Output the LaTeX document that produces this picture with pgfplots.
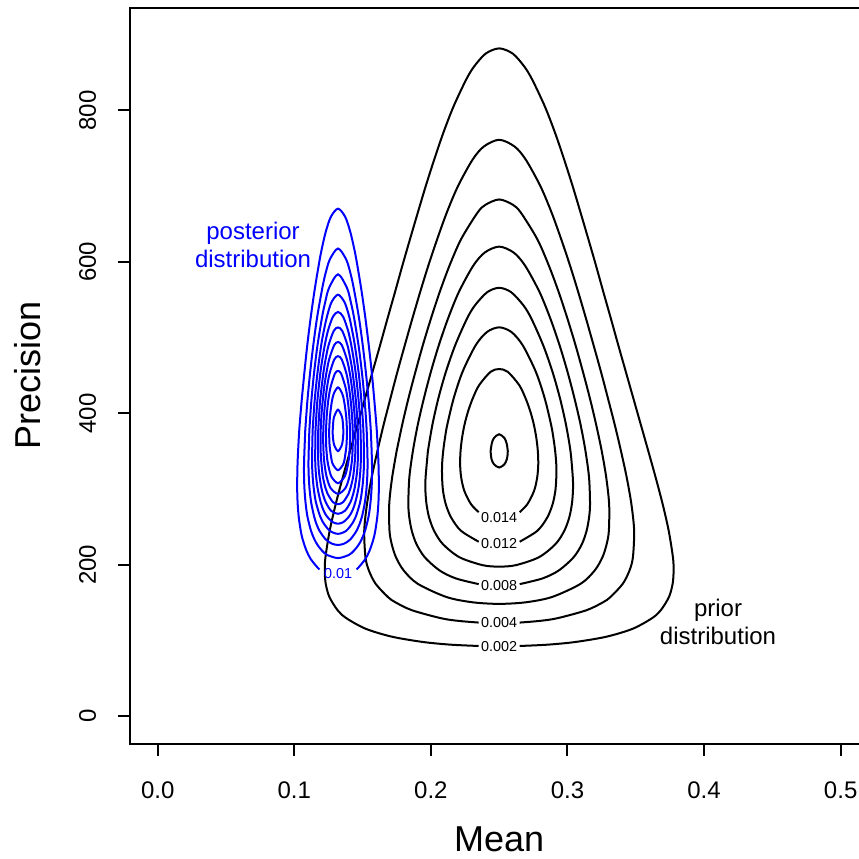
\documentclass[border=0pt]{standalone}
\usepackage{fontspec}
\setmainfont{Liberation Sans}
\usepackage{pgfplots}
\pgfplotsset{compat=1.18}
\pgfplotsset{
  ctb/.style={black, line width=1pt, smooth, mark=none},
  ctp/.style={blue, line width=1pt, smooth, mark=none},
}
\begin{document}
\begin{tikzpicture}
\begin{axis}[
  at={(0,0)}, anchor=south west,
  width=368.8pt, height=368pt, scale only axis,
  xmin=-0.02, xmax=0.52, ymin=-36, ymax=936,
  xtick={0,0.1,0.2,0.3,0.4,0.5},
  xticklabels={0.0,0.1,0.2,0.3,0.4,0.5},
  ytick={0,200,400,600,800},
  yticklabels={0,200,400,600,800},
  tick align=outside,
  major tick length=6pt,
  xtick pos=left, ytick pos=left,
  axis line style={line width=1pt},
  every tick/.style={black, line width=1pt},
  tick label style={font=\fontsize{12}{14}\selectfont},
  xticklabel style={anchor=base, inner sep=0pt},
  xticklabel shift=21.5pt,
  yticklabel style={rotate=90, anchor=south, inner sep=0pt},
  yticklabel shift=10.9pt,
  xlabel={Mean}, ylabel={Precision},
  label style={font=\fontsize{18}{20}\selectfont},
  xlabel style={at={(axis description cs:0.5,0)}, anchor=base, yshift=-53.75pt},
  ylabel style={at={([xshift=-44.7pt]axis description cs:0,0.5)}, anchor=base},
]
% ---- prior contours (black) ----
% 0.002
\addplot[ctb] coordinates {(0.235,92.8) (0.2147,94.5) (0.1945,98) (0.1716,105) (0.1523,115.5) (0.1381,129.5) (0.1317,140) (0.1257,157.5) (0.1230,175) (0.1223,192.5) (0.1228,210) (0.1259,245) (0.1303,280) (0.1354,315) (0.1408,350) (0.1463,385) (0.1518,420) (0.1573,455) (0.1628,490) (0.1682,525) (0.1737,560) (0.1791,595) (0.1847,630) (0.1904,665) (0.1962,700) (0.2024,735) (0.2090,770) (0.2165,805) (0.2256,840) (0.2314,857.5) (0.2400,875) (0.25,882) (0.2600,875) (0.2686,857.5) (0.2744,840) (0.2835,805) (0.2910,770) (0.2976,735) (0.3038,700) (0.3096,665) (0.3153,630) (0.3209,595) (0.3263,560) (0.3318,525) (0.3372,490) (0.3427,455) (0.3482,420) (0.3537,385) (0.3592,350) (0.3646,315) (0.3697,280) (0.3741,245) (0.3772,210) (0.3777,192.5) (0.3770,175) (0.3743,157.5) (0.3683,140) (0.3619,129.5) (0.3477,115.5) (0.3284,105) (0.3055,98) (0.2853,94.5) (0.265,92.8)};
% 0.004
\addplot[ctb] coordinates {(0.235,123.7) (0.2199,126) (0.2073,129.5) (0.1861,140) (0.1740,150.5) (0.1685,157.5) (0.1595,175) (0.1546,192.5) (0.1521,210) (0.1512,245) (0.1532,280) (0.1566,315) (0.1608,350) (0.1654,385) (0.1704,420) (0.1755,455) (0.1809,490) (0.1864,525) (0.1921,560) (0.1981,595) (0.2046,630) (0.2116,665) (0.2198,700) (0.2305,735) (0.2388,752.5) (0.25,761.3) (0.2612,752.5) (0.2695,735) (0.2802,700) (0.2884,665) (0.2954,630) (0.3019,595) (0.3079,560) (0.3136,525) (0.3191,490) (0.3245,455) (0.3296,420) (0.3346,385) (0.3392,350) (0.3434,315) (0.3468,280) (0.3488,245) (0.3479,210) (0.3454,192.5) (0.3405,175) (0.3315,157.5) (0.3260,150.5) (0.3139,140) (0.2927,129.5) (0.2801,126) (0.265,123.7)};
% 0.006
\addplot[ctb] coordinates {(0.1749,350) (0.1790,385) (0.1836,420) (0.1887,455) (0.1941,490) (0.2000,525) (0.2064,560) (0.2136,595) (0.2221,630) (0.2341,665) (0.2400,675.5) (0.25,682.5) (0.2600,675.5) (0.2659,665) (0.2779,630) (0.2864,595) (0.2936,560) (0.3000,525) (0.3059,490) (0.3113,455) (0.3164,420) (0.3210,385) (0.3251,350) (0.3284,315) (0.3305,280) (0.3303,245) (0.3287,227.5) (0.3256,210) (0.3199,192.5) (0.3097,175) (0.2887,157.5) (0.2695,150.5) (0.25,148.4) (0.2305,150.5) (0.2113,157.5) (0.1903,175) (0.1801,192.5) (0.1744,210) (0.1713,227.5) (0.1697,245) (0.1695,280) (0.1716,315) (0.1749,350)};
% 0.008
\addplot[ctb] coordinates {(0.235,174.5) (0.2183,182) (0.2064,192.5) (0.1955,210) (0.1894,227.5) (0.1860,245) (0.1842,262.5) (0.1835,280) (0.1842,315) (0.1868,350) (0.1904,385) (0.1949,420) (0.2000,455) (0.2058,490) (0.2125,525) (0.2204,560) (0.2310,595) (0.2395,612.5) (0.25,620.2) (0.2605,612.5) (0.2690,595) (0.2796,560) (0.2875,525) (0.2942,490) (0.3000,455) (0.3051,420) (0.3096,385) (0.3132,350) (0.3158,315) (0.3165,280) (0.3158,262.5) (0.3140,245) (0.3106,227.5) (0.3045,210) (0.2936,192.5) (0.2817,182) (0.265,174.5)};
% 0.010
\addplot[ctb] coordinates {(0.1978,350) (0.2011,385) (0.2055,420) (0.2110,455) (0.2178,490) (0.2264,525) (0.2322,542.5) (0.2412,560) (0.25,565.8) (0.2588,560) (0.2678,542.5) (0.2736,525) (0.2822,490) (0.2890,455) (0.2945,420) (0.2989,385) (0.3022,350) (0.3039,315) (0.3040,297.5) (0.3032,280) (0.3013,262.5) (0.2977,245) (0.2913,227.5) (0.2791,210) (0.2621,199.5) (0.25,197.6) (0.2379,199.5) (0.2209,210) (0.2087,227.5) (0.2023,245) (0.1987,262.5) (0.1968,280) (0.1960,297.5) (0.1961,315) (0.1978,350)};
% 0.012
\addplot[ctb] coordinates {(0.235,230.5) (0.2220,245) (0.2148,262.5) (0.2109,280) (0.2089,297.5) (0.2082,315) (0.2082,332.5) (0.2090,350) (0.2103,367.5) (0.2120,385) (0.2167,420) (0.2232,455) (0.2328,490) (0.2411,507.5) (0.25,513.6) (0.2589,507.5) (0.2672,490) (0.2768,455) (0.2833,420) (0.2880,385) (0.2897,367.5) (0.2910,350) (0.2918,332.5) (0.2918,315) (0.2911,297.5) (0.2891,280) (0.2852,262.5) (0.2780,245) (0.265,230.5)};
% 0.014
\addplot[ctb] coordinates {(0.235,269.5) (0.2294,280) (0.2245,297.5) (0.2222,315) (0.2214,332.5) (0.2217,350) (0.2228,367.5) (0.2246,385) (0.2272,402.5) (0.2307,420) (0.2354,437.5) (0.2438,455) (0.25,458.5) (0.2562,455) (0.2646,437.5) (0.2693,420) (0.2728,402.5) (0.2754,385) (0.2772,367.5) (0.2783,350) (0.2786,332.5) (0.2778,315) (0.2755,297.5) (0.2706,280) (0.265,269.5)};
% 0.016
\addplot[ctb] coordinates {(0.2437,350) (0.2446,360.5) (0.2462,367.5) (0.25,372.4) (0.2538,367.5) (0.2554,360.5) (0.2563,350) (0.2556,339.5) (0.2537,332.5) (0.25,328.5) (0.2463,332.5) (0.2444,339.5) (0.2437,350)};
% ---- posterior contours (blue) ----
% 0.01
\addplot[ctp] coordinates {(0.1185,194) (0.1172,196) (0.1121,207.35) (0.1089,218.7) (0.1061,233.7) (0.1047,245.05) (0.1032,263.9) (0.1024,282.75) (0.1021,301.6) (0.1022,320.45) (0.1025,339.3) (0.1036,377) (0.1053,414.7) (0.1073,452.4) (0.1095,490.1) (0.1121,527.8) (0.1151,565.5) (0.1186,603.2) (0.1207,622.05) (0.1232,640.9) (0.1268,659.75) (0.132,670.3) (0.1372,659.75) (0.1408,640.9) (0.1433,622.05) (0.1454,603.2) (0.1489,565.5) (0.1519,527.8) (0.1545,490.1) (0.1568,452.4) (0.1587,414.7) (0.1604,377) (0.1615,339.3) (0.1618,320.45) (0.1619,301.6) (0.1616,282.75) (0.1608,263.9) (0.1593,245.05) (0.1579,233.7) (0.1551,218.7) (0.1519,207.35) (0.1468,196) (0.1455,194)};
% 0.02
\addplot[ctp] coordinates {(0.1080,377) (0.1095,414.7) (0.1115,452.4) (0.1139,490.1) (0.1168,527.8) (0.1205,565.5) (0.1228,584.35) (0.1260,603.2) (0.132,617.7) (0.1380,603.2) (0.1412,584.35) (0.1435,565.5) (0.1472,527.8) (0.1501,490.1) (0.1525,452.4) (0.1545,414.7) (0.1560,377) (0.1568,339.3) (0.1569,320.45) (0.1566,301.6) (0.1558,282.75) (0.1544,263.9) (0.1518,245.05) (0.1493,233.7) (0.1470,226.2) (0.1437,218.7) (0.1399,213.0) (0.132,208.9) (0.1241,213.0) (0.1203,218.7) (0.1170,226.2) (0.1147,233.7) (0.1122,245.05) (0.1096,263.9) (0.1082,282.75) (0.1074,301.6) (0.1071,320.45) (0.1072,339.3) (0.1080,377)};
% 0.03
\addplot[ctp] coordinates {(0.1110,377) (0.1124,414.7) (0.1144,452.4) (0.1170,490.1) (0.1204,527.8) (0.1226,546.65) (0.1254,565.5) (0.132,583.6) (0.1386,565.5) (0.1414,546.65) (0.1436,527.8) (0.1470,490.1) (0.1496,452.4) (0.1516,414.7) (0.1530,377) (0.1536,339.3) (0.1535,320.45) (0.1529,301.6) (0.1517,282.75) (0.1496,263.9) (0.1483,256.4) (0.1456,245.05) (0.1411,233.7) (0.1367,228.1) (0.132,226.2) (0.1273,228.1) (0.1229,233.7) (0.1184,245.05) (0.1157,256.4) (0.1145,263.9) (0.1123,282.75) (0.1111,301.6) (0.1105,320.45) (0.1104,339.3) (0.1110,377)};
% 0.04
\addplot[ctp] coordinates {(0.1134,377) (0.1148,414.7) (0.1169,452.4) (0.1197,490.1) (0.1216,508.95) (0.1239,527.8) (0.1272,546.65) (0.132,556.7) (0.1368,546.65) (0.1402,527.8) (0.1424,508.95) (0.1443,490.1) (0.1472,452.4) (0.1492,414.7) (0.1506,377) (0.1510,339.3) (0.1507,320.45) (0.1498,301.6) (0.1482,282.75) (0.1451,263.9) (0.1431,256.4) (0.1381,245.05) (0.132,240.9) (0.1259,245.05) (0.1209,256.4) (0.1189,263.9) (0.1158,282.75) (0.1142,301.6) (0.1133,320.45) (0.1130,339.3) (0.1134,377)};
% 0.05
\addplot[ctp] coordinates {(0.1155,377) (0.1168,414.7) (0.1190,452.4) (0.1205,471.25) (0.1223,490.1) (0.1246,508.95) (0.1283,527.8) (0.132,533.9) (0.1357,527.8) (0.1394,508.95) (0.1417,490.1) (0.1435,471.25) (0.1450,452.4) (0.1472,414.7) (0.1485,377) (0.1487,339.3) (0.1482,320.45) (0.1470,301.6) (0.1447,282.75) (0.1425,271.4) (0.1401,263.9) (0.1359,256.4) (0.132,254.3) (0.1281,256.4) (0.1239,263.9) (0.1215,271.4) (0.1193,282.75) (0.1170,301.6) (0.1158,320.45) (0.1153,339.3) (0.1155,377)};
% 0.06
\addplot[ctp] coordinates {(0.1175,377) (0.1188,414.7) (0.1212,452.4) (0.1229,471.25) (0.1251,490.1) (0.1289,508.95) (0.132,513.5) (0.1351,508.95) (0.1389,490.1) (0.1411,471.25) (0.1428,452.4) (0.1452,414.7) (0.1465,377) (0.1465,339.3) (0.1458,320.45) (0.1442,301.6) (0.1432,294.1) (0.1411,282.75) (0.1371,271.4) (0.132,267.3) (0.1269,271.4) (0.1230,282.75) (0.1208,294.1) (0.1198,301.6) (0.1182,320.45) (0.1175,339.3) (0.1175,377)};
% 0.07
\addplot[ctp] coordinates {(0.1193,377) (0.1198,395.85) (0.1207,414.7) (0.1218,433.55) (0.1234,452.4) (0.1255,471.25) (0.1292,490.1) (0.132,494.2) (0.1348,490.1) (0.1385,471.25) (0.1407,452.4) (0.1422,433.55) (0.1433,414.7) (0.1442,395.85) (0.1447,377) (0.1448,358.15) (0.1444,339.3) (0.1431,316.7) (0.1412,301.6) (0.1398,294.1) (0.1357,282.75) (0.132,280.1) (0.1283,282.75) (0.1243,294.1) (0.1228,301.6) (0.1209,316.7) (0.1196,339.3) (0.1192,358.15) (0.1193,377)};
% 0.08
\addplot[ctp] coordinates {(0.1212,377) (0.1217,395.85) (0.1226,414.7) (0.1239,433.55) (0.1258,452.4) (0.1293,471.25) (0.132,475.5) (0.1347,471.25) (0.1382,452.4) (0.1401,433.55) (0.1414,414.7) (0.1423,395.85) (0.1428,377) (0.1428,358.15) (0.1423,339.3) (0.1418,331.8) (0.1404,316.7) (0.1375,301.6) (0.132,293.7) (0.1265,301.6) (0.1236,316.7) (0.1222,331.8) (0.1217,339.3) (0.1212,358.15) (0.1212,377)};
% 0.09
\addplot[ctp] coordinates {(0.1232,377) (0.1237,395.85) (0.1247,414.7) (0.1264,433.55) (0.1297,452.4) (0.132,456.0) (0.1343,452.4) (0.1376,433.55) (0.1393,414.7) (0.1403,395.85) (0.1408,377) (0.1407,358.15) (0.1399,339.3) (0.1392,331.8) (0.1369,316.7) (0.132,307.8) (0.1271,316.7) (0.1248,331.8) (0.1241,339.3) (0.1233,358.15) (0.1232,377)};
% 0.10
\addplot[ctp] coordinates {(0.1255,377) (0.1261,395.85) (0.1274,414.7) (0.1289,426.0) (0.132,434.3) (0.1351,426.0) (0.1366,414.7) (0.1380,395.85) (0.1385,377) (0.1382,358.15) (0.1368,339.3) (0.1355,331.8) (0.132,325.0) (0.1285,331.8) (0.1272,339.3) (0.1258,358.15) (0.1255,377)};
% 0.11
\addplot[ctp] coordinates {(0.1281,377) (0.1285,388.3) (0.1292,395.85) (0.132,404.9) (0.1348,395.85) (0.1355,388.3) (0.1359,377) (0.1358,369.5) (0.1348,358.15) (0.132,350.2) (0.1292,358.15) (0.1282,369.5) (0.1281,377)};
% ---- contour labels ----
\begin{scope}[font=\fontsize{7.2}{8}\selectfont, inner sep=0pt]
\node at (axis cs:0.25,92.6) {0.002};
\node at (axis cs:0.25,123.4) {0.004};
\node at (axis cs:0.25,173) {0.008};
\node at (axis cs:0.25,227.5) {0.012};
\node at (axis cs:0.25,263) {0.014};
\node[blue] at (axis cs:0.132,188) {0.01};
\end{scope}
\node[blue, align=center, font=\fontsize{12}{14}\selectfont] at (axis cs:0.0698,623) {posterior\\distribution};
\node[black, align=center, font=\fontsize{12}{14}\selectfont] at (axis cs:0.4102,124) {prior\\distribution};
\end{axis}
\pgfresetboundingbox
\useasboundingbox (-65.2pt,-57.75pt) rectangle (364.3pt,371.75pt);
\end{tikzpicture}
\end{document}
